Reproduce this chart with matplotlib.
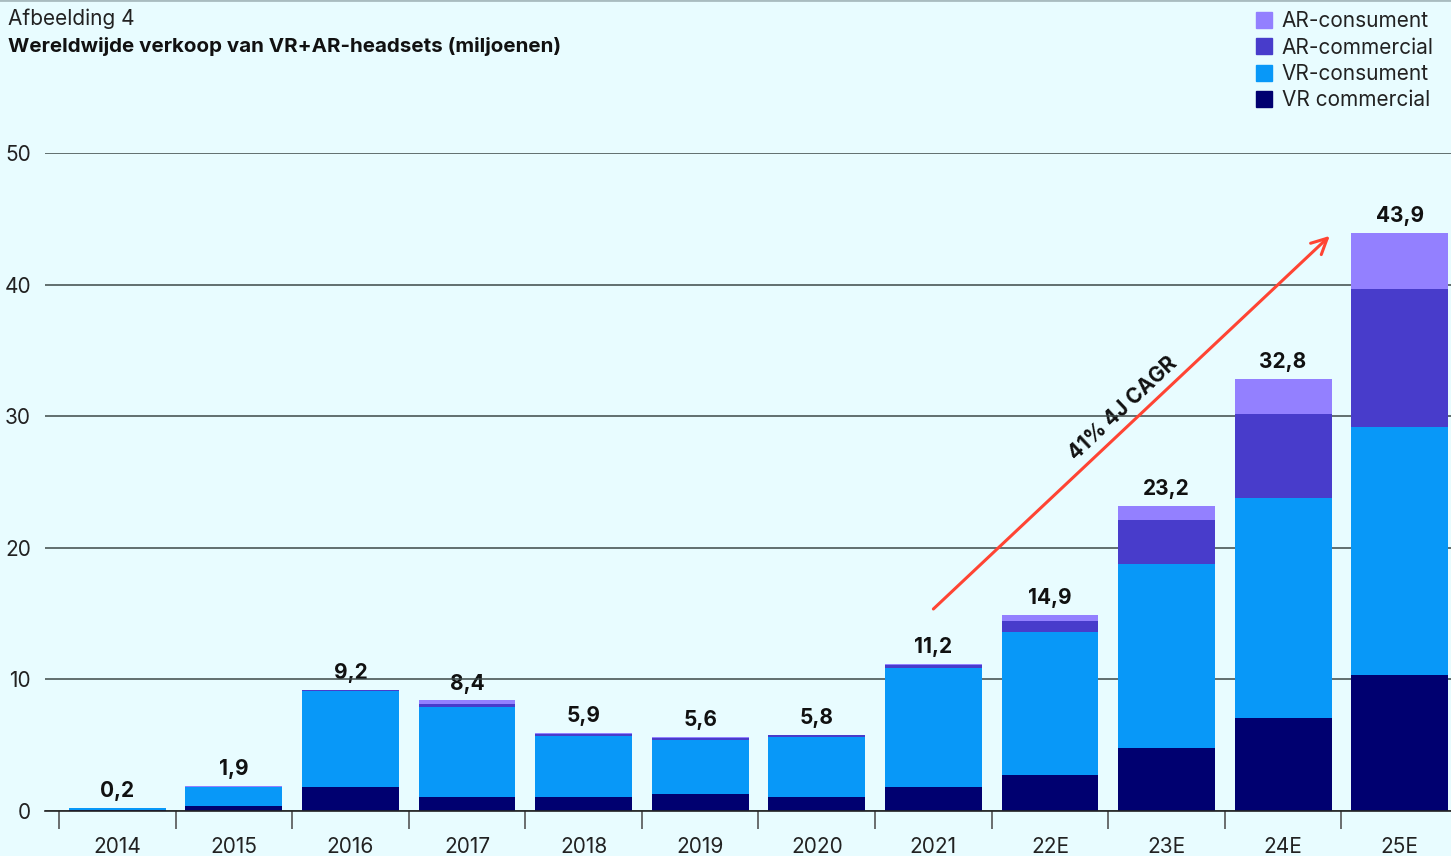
import numpy as np
import matplotlib
matplotlib.use("Agg")
from matplotlib import pyplot as plt
from matplotlib.patches import Patch
from matplotlib.lines import Line2D

plt.rcParams['font.family'] = ['Inter', 'DejaVu Sans']

years = ['2014', '2015', '2016', '2017', '2018', '2019', '2020', '2021', '22E', '23E', '24E', '25E']
totals = [0.2, 1.9, 9.2, 8.4, 5.9, 5.6, 5.8, 11.2, 14.9, 23.2, 32.8, 43.9]
vr_commercial = [0.1, 0.4, 1.8, 1.1, 1.1, 1.3, 1.1, 1.8, 2.7, 4.8, 7.1, 10.3]
vr_consument = [0.1, 1.4, 7.3, 6.8, 4.6, 4.1, 4.5, 9.1, 10.9, 14.0, 16.7, 18.9]
ar_commercial = [0.0, 0.0, 0.1, 0.2, 0.15, 0.15, 0.15, 0.2, 0.8, 3.3, 6.4, 10.5]
ar_consument = [0.0, 0.1, 0.0, 0.3, 0.05, 0.05, 0.05, 0.1, 0.5, 1.1, 2.6, 4.2]

cagr_label = '41% 4J CAGR'
cagr_start = (7.0, 15.35)
cagr_end = (10.4, 43.7)

bg = '#e8fcff'
c_vr_com = '#000070'
c_vr_con = '#0898f8'
c_ar_com = '#483ccb'
c_ar_con = '#9380ff'

fig = plt.figure(figsize=(14.51, 8.56), dpi=100, facecolor=bg)
ax = fig.add_axes([45 / 1451, 45 / 856, 1 - 45 / 1451, (811 - 153) / 856])
ax.set_facecolor(bg)

x = np.arange(len(years))
w = 0.83
bottom = np.zeros(len(years))
for vals, col in [(vr_commercial, c_vr_com), (vr_consument, c_vr_con),
                  (ar_commercial, c_ar_com), (ar_consument, c_ar_con)]:
    ax.bar(x, vals, w, bottom=bottom, color=col, zorder=2, linewidth=0)
    bottom += np.array(vals)

# value labels on top of each stack (box sits under the bars, over the grid)
for xi, t in zip(x, totals):
    ax.annotate(f'{t:.1f}'.replace('.', ','), (xi, t), xytext=(0, 5),
                textcoords='offset points', ha='center', va='bottom',
                fontsize=15, fontweight='bold', color='#111111', zorder=1.5,
                bbox=dict(boxstyle='square,pad=0.6', fc=bg, ec='none'))

ax.set_xlim(-0.62, 11.44)
ax.set_ylim(0, 50)

# grid + axes
ax.set_yticks([0, 10, 20, 30, 40, 50])
ax.grid(axis='y', color='#3c4848', lw=1.1, zorder=0)
ax.tick_params(axis='y', length=0, pad=10, labelsize=15, labelcolor='#222222')
ax.set_xticks(x, years)
ax.tick_params(axis='x', which='major', length=0, pad=19, labelsize=15, labelcolor='#222222')
ax.set_xticks(np.arange(-0.5, 11, 1), minor=True)
ax.tick_params(axis='x', which='minor', length=13, width=1.2, color='#555555')
for s in ['top', 'right', 'left']:
    ax.spines[s].set_visible(False)
ax.spines['bottom'].set_color('#222222')
ax.spines['bottom'].set_linewidth(1.2)
ax.spines['bottom'].set_zorder(3)

# growth arrow
ax.annotate('', xy=cagr_end, xytext=cagr_start, zorder=5,
            arrowprops=dict(arrowstyle='->', color='#ff4433', lw=2.2,
                            mutation_scale=28, shrinkA=0, shrinkB=0))
fig.canvas.draw()
p1 = ax.transData.transform(cagr_start)
p2 = ax.transData.transform(cagr_end)
ang = np.degrees(np.arctan2(p2[1] - p1[1], p2[0] - p1[0]))
ax.text(8.63, 30.6, cagr_label, rotation=ang, rotation_mode='anchor',
        ha='center', va='center', fontsize=15, fontweight='bold', color='#111111',
        zorder=1.5, bbox=dict(boxstyle='square,pad=0.3', fc=bg, ec='none'))

# titles
fig.text(8 / 1451, 1 - 19 / 856, 'Afbeelding 4', fontsize=15, color='#222222', va='center')
fig.text(8 / 1451, 1 - 46 / 856, 'Wereldwijde verkoop van VR+AR-headsets (miljoenen)',
         fontsize=14.8, fontweight='bold', color='#111111', va='center')
fig.add_artist(Line2D([0, 1], [1, 1], color='#a9bcc0', lw=2, transform=fig.transFigure))

handles = [Patch(color=c_ar_con, label='AR-consument'),
           Patch(color=c_ar_com, label='AR-commercial'),
           Patch(color=c_vr_con, label='VR-consument'),
           Patch(color=c_vr_com, label='VR commercial')]
fig.legend(handles=handles, loc='upper right', bbox_to_anchor=(1442 / 1451, 1 - 3 / 856),
           frameon=False, fontsize=15, handlelength=0.8, handleheight=0.8,
           handletextpad=0.45, labelspacing=0.3, borderaxespad=0, labelcolor='#222222')

fig.savefig('out.png', dpi=100, facecolor=bg)
